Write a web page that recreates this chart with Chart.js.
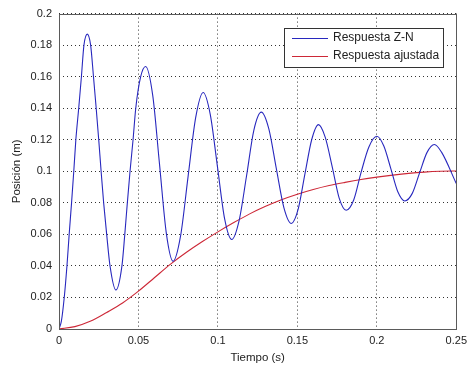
<!DOCTYPE html>
<html>
<head>
<meta charset="utf-8">
<script src="https://cdn.jsdelivr.net/npm/chart.js@4.4.1/dist/chart.umd.min.js"></script>
<style>
  html, body { margin: 0; padding: 0; background: #fff; }
  #wrap { width: 472px; height: 365px; }
</style>
</head>
<body>
<div id="wrap"><canvas id="plot" width="472" height="365"></canvas></div>
<script>
// Respuesta Z-N (time in s, position in m)
var znTime = [0, 0.0015, 0.0033, 0.005, 0.0064, 0.0079, 0.0093, 0.0106, 0.0124, 0.0141, 0.0157, 0.0178,
  0.0199, 0.0217, 0.0234, 0.025, 0.0265, 0.0281, 0.03, 0.0321, 0.0358,
  0.0396, 0.0414, 0.043, 0.0447, 0.0466, 0.0483, 0.0514, 0.0545,
  0.059, 0.0632, 0.0675, 0.0718, 0.0765, 0.0812, 0.086, 0.0907,
  0.0952, 0.0997, 0.1042, 0.1087, 0.1133, 0.118, 0.1226, 0.1273,
  0.132, 0.1367, 0.1415, 0.1462, 0.1505, 0.1547, 0.159, 0.1632,
  0.1675, 0.172, 0.1763, 0.1807, 0.1855, 0.19, 0.195, 0.2,
  0.2044, 0.2088, 0.2132, 0.2176, 0.2223, 0.2269, 0.2316, 0.2362, 0.2408, 0.25];
var znPos = [0, 0.005, 0.02, 0.04, 0.06, 0.08, 0.1, 0.12, 0.14, 0.16, 0.18, 0.187,
  0.18, 0.16, 0.14, 0.12, 0.1, 0.08, 0.06, 0.04, 0.0247,
  0.04, 0.06, 0.08, 0.1, 0.12, 0.14, 0.16, 0.1665,
  0.148, 0.105, 0.061, 0.043, 0.059, 0.0965, 0.134, 0.150,
  0.136, 0.103, 0.070, 0.0568, 0.0686, 0.097, 0.126, 0.1375,
  0.127, 0.102, 0.077, 0.0669, 0.076, 0.098, 0.120, 0.1296,
  0.1217, 0.1025, 0.083, 0.0753, 0.082, 0.099, 0.1154, 0.1222,
  0.116, 0.1017, 0.087, 0.0812, 0.086, 0.099, 0.112, 0.117, 0.112, 0.0922];

// Respuesta ajustada
var adjTime = [0, 0.01, 0.02, 0.03, 0.04, 0.05, 0.06, 0.07, 0.08, 0.09, 0.1, 0.11, 0.12, 0.13,
  0.14, 0.15, 0.16, 0.17, 0.18, 0.19, 0.2, 0.21, 0.22, 0.23, 0.24, 0.25];
var adjPos = [0, 0.0015, 0.005, 0.0105, 0.0165, 0.024, 0.0325, 0.041, 0.0485, 0.0553, 0.0616, 0.0675,
  0.073, 0.0778, 0.082, 0.0855, 0.0885, 0.091, 0.093, 0.0948, 0.0963, 0.0976, 0.0987, 0.0995, 0.1, 0.1002];

var seriesNames = ["Respuesta Z-N", "Respuesta ajustada"];
var xTickValues = [0, 0.05, 0.1, 0.15, 0.2, 0.25];
var xTickLabels = ["0", "0.05", "0.1", "0.15", "0.2", "0.25"];
var yTickValues = [0, 0.02, 0.04, 0.06, 0.08, 0.1, 0.12, 0.14, 0.16, 0.18, 0.2];
var yTickLabels = ["0", "0.02", "0.04", "0.06", "0.08", "0.1", "0.12", "0.14", "0.16", "0.18", "0.2"];

function pairs(xs, ys) {
  var out = [];
  for (var i in xs) {
    out.push({x: xs[i], y: ys[i]});
  }
  return out;
}

var FONT = "'Liberation Sans', Arial, sans-serif";

// box around the axes + legend in the upper right, matlab style
var boxAndLegend = {
  id: "boxAndLegend",
  afterDatasetsDraw: function(chart) {
    var ctx = chart.ctx;
    var a = chart.chartArea;
    ctx.save();
    ctx.strokeStyle = "#5a5a5a";
    ctx.lineWidth = 1;
    ctx.strokeRect(Math.round(a.left) + 0.5, Math.round(a.top) + 0.5,
      Math.round(a.right - a.left), Math.round(a.bottom - a.top));

    var lx = 284, ly = 28, lw = 159, lh = 39;
    ctx.fillStyle = "#fff";
    ctx.fillRect(lx, ly, lw, lh);
    ctx.strokeStyle = "#333";
    ctx.strokeRect(lx + 0.5, ly + 0.5, lw, lh);
    ctx.font = "12px " + FONT;
    ctx.textBaseline = "middle";
    chart.data.datasets.forEach(function(ds, i) {
      var y = ly + 10 + i * 18;
      ctx.strokeStyle = ds.borderColor;
      ctx.lineWidth = 1;
      ctx.beginPath();
      ctx.moveTo(lx + 8, y + 0.5);
      ctx.lineTo(lx + 44, y + 0.5);
      ctx.stroke();
      ctx.fillStyle = "#222";
      ctx.fillText(ds.label, lx + 49, y);
    });
    ctx.restore();
  }
};

var ctx = document.getElementById("plot").getContext("2d");
var chart = new Chart(ctx, {
  type: "line",
  data: {
    datasets: [
      {
        label: seriesNames[0],
        data: pairs(znTime, znPos),
        borderColor: "rgb(40, 40, 190)",
        borderWidth: 1.1,
        pointRadius: 0,
        fill: false,
        cubicInterpolationMode: "monotone"
      },
      {
        label: seriesNames[1],
        data: pairs(adjTime, adjPos),
        borderColor: "rgb(205, 40, 55)",
        borderWidth: 1.1,
        pointRadius: 0,
        fill: false,
        cubicInterpolationMode: "monotone"
      }
    ]
  },
  options: {
    responsive: false,
    animation: false,
    events: [],
    layout: { padding: { top: 13, right: 11, left: 0, bottom: 0 } },
    plugins: { legend: { display: false }, tooltip: { enabled: false } },
    scales: {
      x: {
        type: "linear",
        min: 0,
        max: 0.25,
        afterBuildTicks: function(scale) {
          scale.ticks = xTickValues.map(function(v) { return {value: v}; });
        },
        afterFit: function(scale) { scale.height = 36; },
        grid: { color: "#333", drawTicks: false, lineWidth: 1 },
        border: { display: false, dash: [1, 3] },
        ticks: {
          color: "#222",
          font: { family: FONT, size: 11 },
          padding: 5,
          maxRotation: 0,
          callback: function(v, i) { return xTickLabels[i]; }
        },
        title: {
          display: true,
          text: "Tiempo (s)",
          color: "#222",
          font: { family: FONT, size: 11.5 },
          padding: { top: 1, bottom: 0 }
        }
      },
      y: {
        type: "linear",
        min: 0,
        max: 0.2,
        afterBuildTicks: function(scale) {
          scale.ticks = yTickValues.map(function(v) { return {value: v}; });
        },
        afterFit: function(scale) { scale.width = 59; },
        grid: { color: "#333", drawTicks: false, lineWidth: 1 },
        border: { display: false, dash: [1, 3] },
        ticks: {
          color: "#222",
          font: { family: FONT, size: 11 },
          padding: 7,
          callback: function(v, i) { return yTickLabels[i]; }
        },
        title: {
          display: true,
          text: "Posición (m)",
          color: "#222",
          font: { family: FONT, size: 11.5 },
          padding: { top: 10, bottom: 0 }
        }
      }
    }
  },
  plugins: [boxAndLegend]
});
</script>
</body>
</html>
